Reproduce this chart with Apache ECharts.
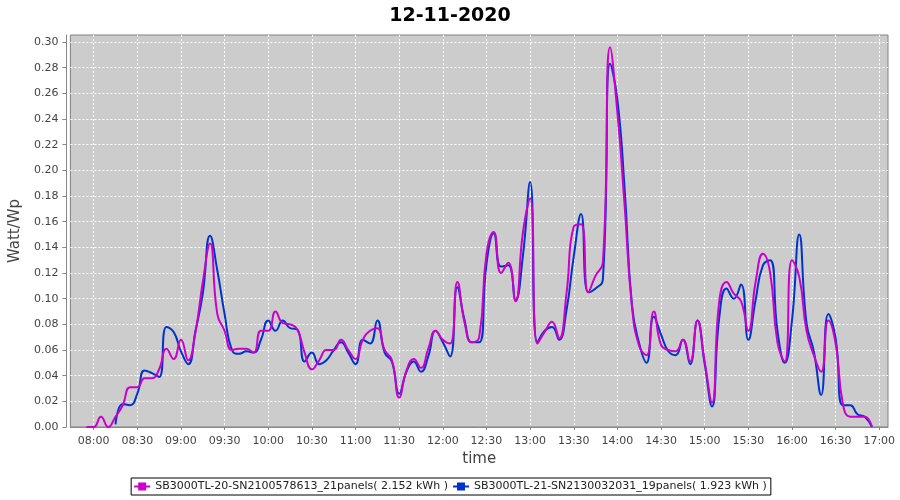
<!DOCTYPE html>
<html><head><meta charset="utf-8">
<script src="https://cdn.jsdelivr.net/npm/echarts@6/dist/echarts.min.js"></script>
<style>html,body{margin:0;padding:0;background:#fff}#c{width:900px;height:500px}</style>
</head><body><div id="c"></div>
<script>
const chartTitle = '12-11-2020';
const seriesNames = [
  'SB3000TL-20-SN2100578613_21panels( 2.152 kWh )',
  'SB3000TL-21-SN2130032031_19panels( 1.923 kWh )'
];
const times = [
  '07:55','08:00','08:05','08:10','08:15','08:20','08:25','08:30','08:35','08:40','08:45','08:50','08:55',
  '09:00','09:05','09:10','09:15','09:20','09:25','09:30','09:35','09:40','09:45','09:50','09:55',
  '10:00','10:05','10:10','10:15','10:20','10:25','10:30','10:35','10:40','10:45','10:50','10:55',
  '11:00','11:05','11:10','11:15','11:20','11:25','11:30','11:35','11:40','11:45','11:50','11:55',
  '12:00','12:05','12:10','12:15','12:20','12:25','12:30','12:35','12:40','12:45','12:50','12:55',
  '13:00','13:05','13:10','13:15','13:20','13:25','13:30','13:35','13:40','13:45','13:50','13:55',
  '14:00','14:05','14:10','14:15','14:20','14:25','14:30','14:35','14:40','14:45','14:50','14:55',
  '15:00','15:05','15:10','15:15','15:20','15:25','15:30','15:35','15:40','15:45','15:50','15:55',
  '16:00','16:05','16:10','16:15','16:20','16:25','16:30','16:35','16:40','16:45','16:50','16:55'
];
const inverter20 = [
  0.000,0.000,0.008,0.000,0.008,0.017,0.031,0.031,0.038,0.038,0.045,0.061,0.053,
  0.068,0.052,0.074,0.113,0.143,0.088,0.075,0.060,0.061,0.061,0.058,0.075,
  0.075,0.090,0.081,0.080,0.076,0.058,0.045,0.052,0.060,0.060,0.068,0.060,
  0.053,0.068,0.075,0.077,0.060,0.052,0.023,0.044,0.053,0.046,0.061,0.075,
  0.068,0.065,0.113,0.081,0.066,0.070,0.135,0.152,0.120,0.128,0.098,0.151,
  0.178,0.065,0.074,0.082,0.069,0.104,0.156,0.158,0.105,0.118,0.128,0.296,
  0.245,0.172,0.094,0.063,0.056,0.090,0.064,0.060,0.059,0.068,0.051,0.083,
  0.051,0.019,0.098,0.113,0.104,0.098,0.075,0.113,0.135,0.120,0.066,0.051,
  0.130,0.117,0.075,0.056,0.043,0.083,0.065,0.018,0.008,0.008,0.008,0.000
];
const inverter21 = [
  null,null,null,null,0.002,0.018,0.017,0.026,0.044,0.042,0.039,0.078,0.074,
  0.059,0.049,0.075,0.104,0.149,0.122,0.088,0.060,0.057,0.059,0.058,0.068,
  0.083,0.075,0.083,0.077,0.076,0.051,0.058,0.049,0.052,0.060,0.066,0.058,
  0.049,0.068,0.065,0.083,0.058,0.051,0.026,0.043,0.051,0.043,0.055,0.075,
  0.066,0.055,0.109,0.083,0.066,0.066,0.127,0.151,0.125,0.126,0.099,0.133,
  0.191,0.066,0.075,0.078,0.068,0.091,0.133,0.166,0.105,0.108,0.115,0.283,
  0.255,0.185,0.095,0.065,0.050,0.086,0.072,0.059,0.056,0.068,0.049,0.083,
  0.049,0.016,0.085,0.108,0.100,0.111,0.068,0.099,0.126,0.130,0.075,0.050,
  0.083,0.150,0.081,0.059,0.025,0.088,0.069,0.017,0.017,0.010,0.008,0.000
];
const xTickLabels = ['08:00','08:30','09:00','09:30','10:00','10:30','11:00','11:30','12:00','12:30',
  '13:00','13:30','14:00','14:30','15:00','15:30','16:00','16:30','17:00'];
const yTickLabels = ['0.00','0.02','0.04','0.06','0.08','0.10','0.12','0.14','0.16','0.18',
  '0.20','0.22','0.24','0.26','0.28','0.30'];

function toMin(s){ const p = s.split(':'); return (+p[0]) * 60 + (+p[1]); }
function fmt(m){ const h = Math.floor(m/60), mm = Math.round(m%60); return (h<10?'0':'')+h+':'+(mm<10?'0':'')+mm; }
function pairs(vals){ const out=[]; times.forEach((t,i)=>{ if (vals[i] !== null) out.push([toMin(t), vals[i]]); }); return out; }

const xTicks = xTickLabels.map(toMin);
const yTicks = yTickLabels.map(Number);

const chart = echarts.init(document.getElementById('c'), null, {renderer:'canvas'});
const font = 'DejaVu Sans';
chart.setOption({
  animation: false,
  backgroundColor: '#ffffff',
  title: { text: chartTitle, left: 'center', top: 2,
    textStyle: { fontFamily: font, fontSize: 19, fontWeight: 'bold', color: '#000' } },
  grid: { left: 68, right: 12, top: 35, bottom: 73, show: true,
    backgroundColor: '#cccccc', borderColor: '#808080', borderWidth: 1 },
  legend: {
    top: 478, left: 'center', orient: 'horizontal',
    data: seriesNames,
    itemWidth: 16, itemHeight: 10, itemGap: 4,
    padding: [3, 4, 3, 2],
    borderColor: '#000', borderWidth: 1,
    textStyle: { fontFamily: font, fontSize: 11, color: '#222' }
  },
  xAxis: {
    type: 'value', min: 464, max: 1026, offset: 4,
    name: 'time', nameLocation: 'middle', nameGap: 21,
    nameTextStyle: { fontFamily: font, fontSize: 15, color: '#444' },
    axisLine: { show: true, lineStyle: { color: '#888', width: 1 } },
    axisTick: { show: true, length: 3, lineStyle: { color: '#888' }, customValues: xTicks },
    axisLabel: { fontFamily: font, fontSize: 11, color: '#444', margin: 5,
      customValues: xTicks, formatter: v => fmt(v) },
    splitLine: { show: true, lineStyle: { color: '#ffffff', type: [2, 2], width: 1 } }
  },
  yAxis: {
    type: 'value', min: 0, max: 0.3055, offset: 4,
    name: 'Watt/Wp', nameLocation: 'middle', nameGap: 30, nameRotate: 90,
    nameTextStyle: { fontFamily: font, fontSize: 15, color: '#444' },
    axisLine: { show: true, lineStyle: { color: '#888', width: 1 } },
    axisTick: { show: true, length: 4, lineStyle: { color: '#888' }, customValues: yTicks },
    axisLabel: { fontFamily: font, fontSize: 11, color: '#444', margin: 8,
      customValues: yTicks, formatter: v => v.toFixed(2) },
    splitLine: { show: true, lineStyle: { color: '#ffffff', type: [2, 2], width: 1 } }
  },
  series: [
    { name: seriesNames[0], type: 'line', data: pairs(inverter20), smooth: 0.5,
      symbol: 'rect', symbolSize: 3, showSymbol: false, z: 3,
      itemStyle: { color: '#cc00cc' }, lineStyle: { color: '#cc00cc', width: 2 } },
    { name: seriesNames[1], type: 'line', data: pairs(inverter21), smooth: 0.5,
      symbol: 'rect', symbolSize: 3, showSymbol: false, z: 2,
      itemStyle: { color: '#0033cc' }, lineStyle: { color: '#0033cc', width: 2 } }
  ]
});
</script></body></html>
